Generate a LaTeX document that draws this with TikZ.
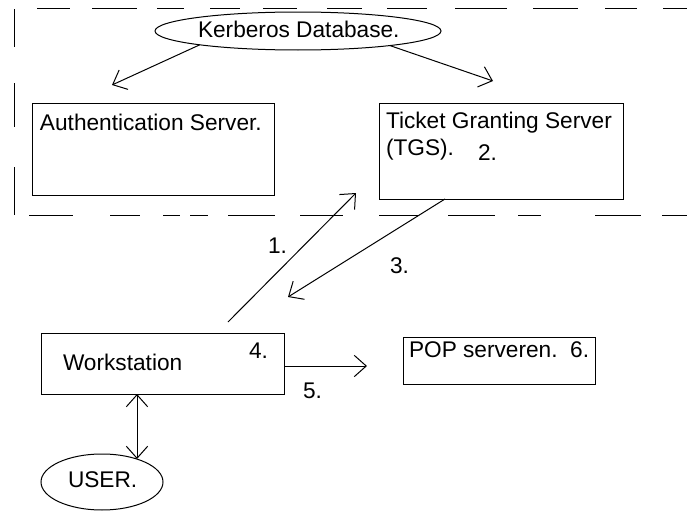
\documentclass[tikz,border=0pt]{standalone}
\usepackage{fontspec}
\setmainfont{Liberation Sans}
\usetikzlibrary{arrows.meta,shapes.geometric,calc}
\begin{document}
\begin{tikzpicture}[x=0.75pt,y=-0.75pt,
  every node/.style={inner sep=0pt, outer sep=0pt},
  box/.style={draw, line width=0.75pt, rectangle},
  oval/.style={draw, line width=0.75pt, ellipse},
  txt/.style={anchor=base west, font=\fontsize{17}{20}\selectfont},
  link/.style={line width=0.75pt, -{Straight Barb[length=9pt,width=16pt]}},
  biglink/.style={line width=0.75pt, {Straight Barb[length=9pt,width=16pt]}-{Straight Barb[length=9pt,width=16pt]}},
  zone/.style={line width=0.75pt}]
\useasboundingbox (0,0) rectangle (687,514);

% dashed boundary of the server zone
\foreach \a/\b in {37/70, 92/137, 157/184, 210/240, 263/297, 327/362, 387/427, 455/507, 533/578, 605/637, 663/687}
  \draw[zone] (\a,8) -- (\b,8);
\foreach \a/\b in {29/73, 110/140, 163/180, 190/208, 228/275, 300/343, 379/418, 448/495, 518/541, 595/641, 662/687}
  \draw[zone] (\a,215) -- (\b,215);
\foreach \a/\b in {9/47, 83/127, 167/215}
  \draw[zone] (14,\a) -- (14,\b);

% shapes
\node[oval, minimum width=214.5pt, minimum height=28.5pt] (kdb) at (298,31) {};
\node[box, minimum width=181.5pt, minimum height=69pt] (auth) at (153,149) {};
\node[box, minimum width=183pt, minimum height=72pt] (tgs) at (501,151) {};
\node[box, minimum width=182.25pt, minimum height=45.75pt] (ws) at (162.5,363.5) {};
\node[box, minimum width=144pt, minimum height=35.25pt] (pop) at (499,360.5) {};
\node[oval, minimum width=91.5pt, minimum height=42pt] (user) at (102,482) {};

% texts
\node[txt] (kdbt) at (198,37) {Kerberos Database.};
\node[txt] (autht) at (40,130) {Authentication Server.};
\node[txt] (tgst1) at (386,128) {Ticket Granting Server};
\node[txt] (tgst2) at (386,156) {(TGS).};
\node[txt] (tgsn) at (478,160) {2.};
\node[txt] (wst) at (63,370) {Workstation};
\node[txt] (wsn) at (249,358) {4.};
\node[txt] (popt) at (409,357) {POP serveren.\ \ 6.};
\node[txt] (usert) at (68,487) {USER.};
\node[txt] (n1) at (268,253) {1.};
\node[txt] (n3) at (390,273) {3.};
\node[txt] (n5) at (303,398) {5.};

% connector ends
\coordinate (kl) at (112,85);
\coordinate (kr) at (493,81);
\coordinate (a1s) at (228,322);
\coordinate (a1e) at (356,193);
\coordinate (a3e) at (288,297);
\coordinate (a5e) at (367,366);
\coordinate (ua) at (137,459);

% connectors
\draw[link] (kdb.188) -- (kl);
\draw[link] (kdb.351) -- (kr);
\draw[link] (a1s) -- (a1e);
\draw[link] ($(tgs.south west)+(66,0)$) -- (a3e);
\draw[link] (ws.east |- a5e) -- (a5e);
\draw[biglink] (ws.south -| ua) -- (ua);
\end{tikzpicture}
\end{document}
